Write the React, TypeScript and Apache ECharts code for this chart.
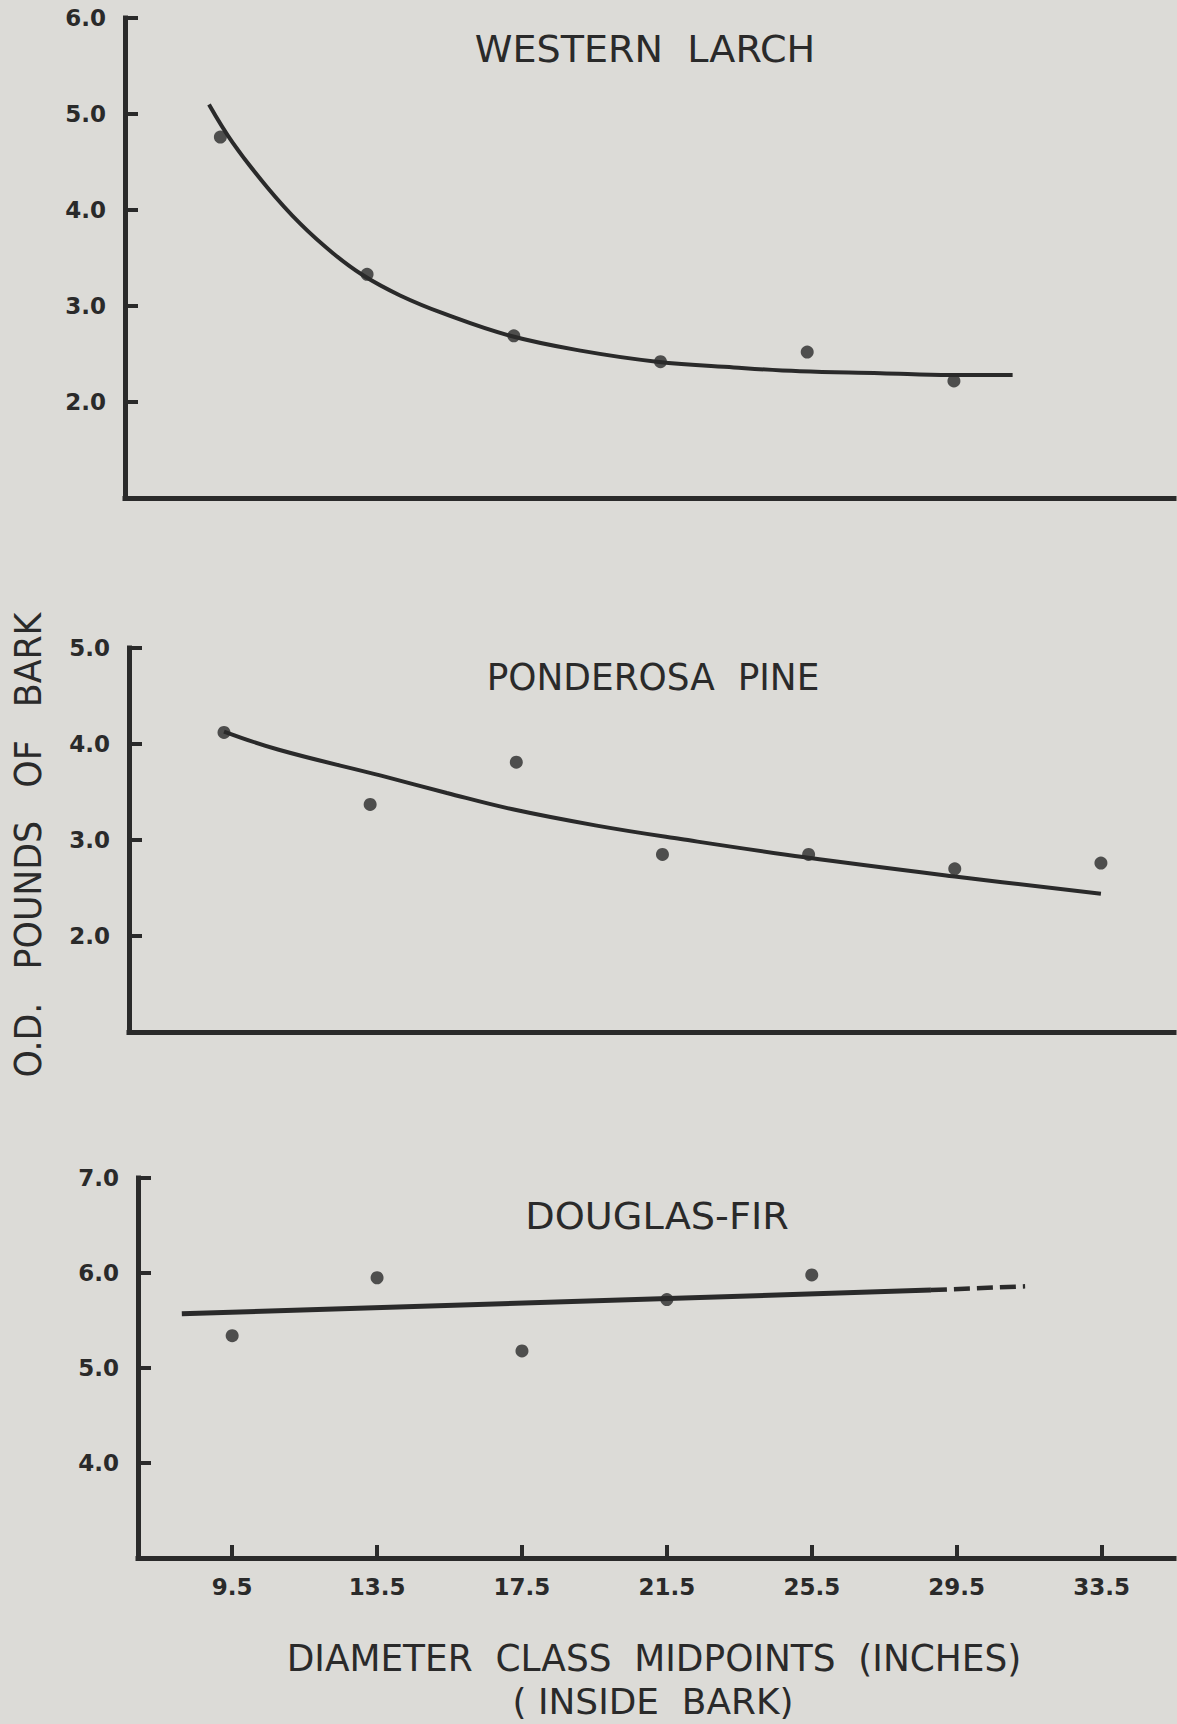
import React, { useEffect, useRef } from "react";
import * as echarts from "echarts";

// ---- Data ----
const midpoints = [9.5, 13.5, 17.5, 21.5, 25.5, 29.5, 33.5];
const xTickLabels = ["9.5", "13.5", "17.5", "21.5", "25.5", "29.5", "33.5"];

// Western larch
const larchPtsX = [9.5, 13.5, 17.5, 21.5, 25.5, 29.5];
const larchPtsY = [4.76, 3.33, 2.69, 2.42, 2.52, 2.22];
const larchCurveX = [9.19, 9.84, 10.77, 11.67, 12.57, 13.39, 14.4, 15.6, 17.4, 19.4, 21.4, 23.5, 25.3, 27.5, 29.4, 31.1];
const larchCurveY = [5.1, 4.7, 4.24, 3.86, 3.55, 3.32, 3.11, 2.92, 2.69, 2.53, 2.42, 2.36, 2.32, 2.3, 2.28, 2.28];
const larchYTicks = [2, 3, 4, 5, 6];

// Ponderosa pine
const pineY = [4.12, 3.37, 3.81, 2.85, 2.85, 2.7, 2.76];
const pineCurveX = [9.5, 11.0, 13.8, 15.6, 17.4, 19.7, 22.0, 25.4, 29.5, 33.5];
const pineCurveY = [4.13, 3.94, 3.67, 3.49, 3.32, 3.15, 3.01, 2.82, 2.62, 2.44];
const pineYTicks = [2, 3, 4, 5];

// Douglas-fir
const firPtsX = [9.5, 13.5, 17.5, 21.5, 25.5];
const firPtsY = [5.34, 5.95, 5.18, 5.72, 5.98];
const firSolidX = [8.11, 28.79];
const firSolidY = [5.57, 5.82];
const firDashX = [28.79, 31.39];
const firDashY = [5.82, 5.86];
const firYTicks = [4, 5, 6, 7];

const INK = "#2a2a2a";
const BG = "#dcdbd7";
const X_MIN = 6.9;
const X_MAX = 35.5;

const zip = (xs: number[], ys: number[]) => xs.map((x, i) => [x, ys[i]]);

export default function App() {
  const ref = useRef<HTMLDivElement>(null);
  useEffect(() => {
    if (!ref.current) return;
    const chart = echarts.init(ref.current, undefined, { renderer: "svg" });

    const grids = [
      { left: 125, top: 18, width: 1174 - 125, height: 480 },
      { left: 129, top: 648, width: 1174 - 129, height: 384 },
      { left: 138, top: 1178, width: 1174 - 138, height: 380 },
    ];
    const yRanges = [
      [1, 6, larchYTicks],
      [1, 5, pineYTicks],
      [3, 7, firYTicks],
    ] as const;

    const axisLine = { show: true, lineStyle: { color: INK, width: 5, cap: "square" } };

    const xAxis = grids.map((_, i) => ({
      type: "value",
      gridIndex: i,
      min: X_MIN,
      max: X_MAX,
      axisLine,
      splitLine: { show: false },
      axisTick:
        i === 2
          ? { show: true, inside: true, length: 13, customValues: midpoints, lineStyle: { color: INK, width: 4 } }
          : { show: false },
      axisLabel:
        i === 2
          ? {
              show: true,
              customValues: midpoints,
              formatter: (v: number) => xTickLabels[midpoints.indexOf(v)] ?? String(v),
              color: INK,
              fontFamily: "DejaVu Sans",
              fontWeight: "bold",
              fontSize: 23,
              margin: 17,
            }
          : { show: false },
    }));

    const yAxis = yRanges.map(([mn, mx, ticks], i) => ({
      type: "value",
      gridIndex: i,
      min: mn,
      max: mx,
      axisLine,
      splitLine: { show: false },
      axisTick: { show: true, inside: true, length: 13, customValues: ticks as any, lineStyle: { color: INK, width: 4 } },
      axisLabel: {
        show: true,
        customValues: ticks as any,
        formatter: (v: number) => v.toFixed(1),
        color: INK,
        fontFamily: "DejaVu Sans",
        fontWeight: "bold",
        fontSize: 23,
        margin: 19,
      },
    }));

    const dot = { color: INK };
    const series: any[] = [
      {
        type: "line", xAxisIndex: 0, yAxisIndex: 0, data: zip(larchCurveX, larchCurveY),
        smooth: 0.4, showSymbol: false, lineStyle: { color: INK, width: 4 },
      },
      {
        type: "scatter", xAxisIndex: 0, yAxisIndex: 0, data: zip(larchPtsX, larchPtsY),
        symbolSize: 13, itemStyle: dot,
      },
      {
        type: "line", xAxisIndex: 1, yAxisIndex: 1, data: zip(pineCurveX, pineCurveY),
        smooth: 0.4, showSymbol: false, lineStyle: { color: INK, width: 4 },
      },
      {
        type: "scatter", xAxisIndex: 1, yAxisIndex: 1, data: zip(midpoints, pineY),
        symbolSize: 13, itemStyle: dot,
      },
      {
        type: "line", xAxisIndex: 2, yAxisIndex: 2, data: zip(firSolidX, firSolidY),
        showSymbol: false, lineStyle: { color: INK, width: 5 },
      },
      {
        type: "line", xAxisIndex: 2, yAxisIndex: 2, data: zip(firDashX, firDashY),
        showSymbol: false, lineStyle: { color: INK, width: 4.5, type: [16, 7] },
      },
      {
        type: "scatter", xAxisIndex: 2, yAxisIndex: 2, data: zip(firPtsX, firPtsY),
        symbolSize: 13, itemStyle: dot,
      },
    ];

    const txt = (text: string, x: number, y: number, size: number, scaleX: number, rotation = 0) => ({
      type: "text",
      x,
      y,
      scaleX,
      rotation,
      style: {
        text,
        fill: INK,
        fontFamily: "DejaVu Sans",
        fontSize: size,
        textAlign: "center",
        textVerticalAlign: "middle",
        align: "center",
        verticalAlign: "middle",
      },
    });

    chart.setOption({
      animation: false,
      backgroundColor: BG,
      grid: grids,
      xAxis,
      yAxis,
      series,
      graphic: [
        txt("WESTERN  LARCH", 645, 49, 37, 1.03),
        txt("PONDEROSA  PINE", 653, 677, 37, 0.97),
        txt("DOUGLAS-FIR", 657, 1216, 37, 1.034),
        txt("DIAMETER  CLASS  MIDPOINTS  (INCHES)", 654, 1658, 38, 0.945),
        txt("( INSIDE  BARK)", 653, 1701, 36, 0.997),
        txt("O.D.   POUNDS   OF   BARK", 28, 845, 37, 0.94, Math.PI / 2),
      ],
    });
    return () => chart.dispose();
  }, []);

  return (
    <div
      ref={ref}
      style={{ position: "absolute", left: 0, top: 0, width: 1177, height: 1724, background: BG }}
    />
  );
}
